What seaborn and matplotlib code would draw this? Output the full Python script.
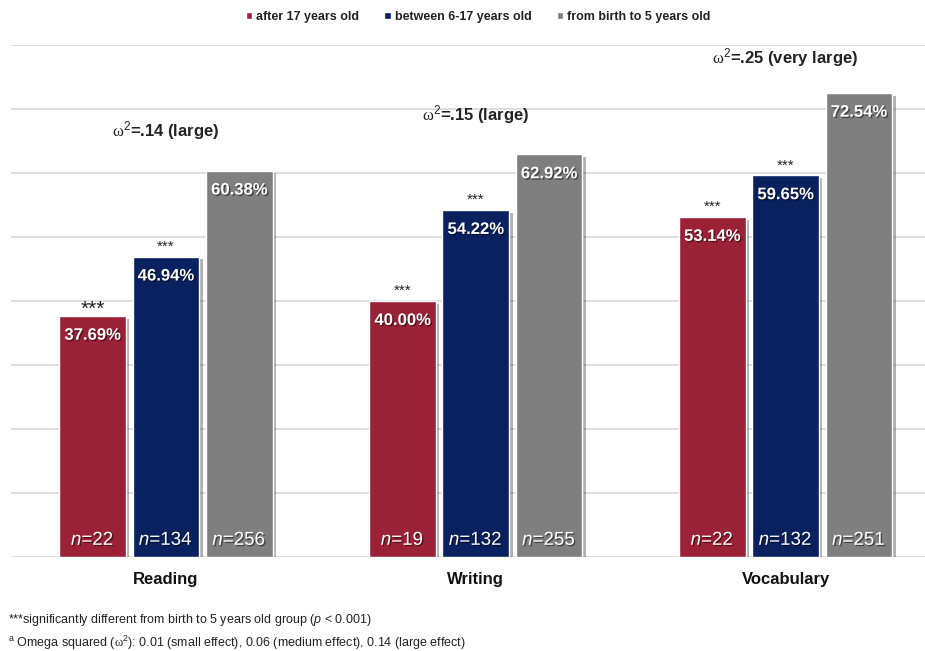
import matplotlib
matplotlib.use("Agg")
import matplotlib.pyplot as plt
import matplotlib.patheffects as pe
import seaborn as sns
import pandas as pd

skills = ["Reading", "Writing", "Vocabulary"]
groups = ["after 17 years old", "between 6-17 years old", "from birth to 5 years old"]
reading = [37.69, 46.94, 60.38]
writing = [40.00, 54.22, 62.92]
vocabulary = [53.14, 59.65, 72.54]
n_reading = [22, 134, 256]
n_writing = [19, 132, 255]
n_vocabulary = [22, 132, 251]
omega_labels = [r"$\mathrm{\omega}^{\mathsf{2}}$=.14 (large)",
                r"$\mathrm{\omega}^{\mathsf{2}}$=.15 (large)",
                r"$\mathrm{\omega}^{\mathsf{2}}$=.25 (very large)"]
omega_y = [66.7, 69.1, 78.1]
stars = [["***", "***", ""], ["***", "***", ""], ["***", "***", ""]]
colors = ["#9B2236", "#0A2160", "#7F7F7F"]

sns.set_theme(style="white")
plt.rcParams["font.family"] = ["Liberation Sans", "DejaVu Sans"]
plt.rcParams["mathtext.fontset"] = "custom"
plt.rcParams["mathtext.rm"] = "Liberation Serif"
plt.rcParams["mathtext.sf"] = "Liberation Sans"
plt.rcParams["mathtext.it"] = "Liberation Sans:italic"
plt.rcParams["mathtext.bf"] = "Liberation Sans:bold"

rows = []
for s, vals, ns in zip(skills, [reading, writing, vocabulary], [n_reading, n_writing, n_vocabulary]):
    for g, v, n in zip(groups, vals, ns):
        rows.append({"skill": s, "group": g, "value": v, "n": n})
df = pd.DataFrame(rows)

fig = plt.figure(figsize=(9.25, 6.51), dpi=100)
ax = fig.add_axes([11 / 925, 1 - 557 / 651, (925 - 11) / 925, (557 - 45) / 651])

sns.barplot(data=df, x="skill", y="value", hue="group", order=skills, hue_order=groups,
            palette=colors, width=0.71, gap=0.09, ax=ax, saturation=1, errorbar=None, zorder=3)

ax.set_ylim(0, 80)
ax.set_xlim(-0.5, 2.45)
ax.set_yticks(range(0, 81, 10))
ax.yaxis.grid(True, color="#D9D9D9", linewidth=1.2, zorder=0)
ax.set_axisbelow(True)
ax.tick_params(axis="y", left=False, labelleft=False)
ax.tick_params(axis="x", bottom=False, labelsize=12, pad=5)
for lab in ax.get_xticklabels():
    lab.set_fontweight("bold")
    lab.set_color("#111111")
ax.set_xlabel("")
ax.set_ylabel("")
for sp in ax.spines.values():
    sp.set_visible(False)

shadow = [pe.withSimplePatchShadow(offset=(2.5, -2), shadow_rgbFace="black", alpha=0.3)]
txt_shadow = [pe.withSimplePatchShadow(offset=(1, -1), shadow_rgbFace="black", alpha=0.45)]

all_vals = [reading, writing, vocabulary]
all_ns = [n_reading, n_writing, n_vocabulary]
for gi, cont in enumerate(ax.containers):
    for si, bar in enumerate(cont):
        bar.set_path_effects(shadow)
        xc = bar.get_x() + bar.get_width() / 2
        h = bar.get_height()
        ax.annotate(f"{all_vals[si][gi]:.2f}%", (xc, h), xytext=(0, -14), textcoords="offset points",
                    ha="center", va="center", color="white", fontsize=12, fontweight="bold",
                    path_effects=txt_shadow, zorder=5)
        ax.annotate(f"$n$={all_ns[si][gi]}", (xc, 0), xytext=(0, 12), textcoords="offset points",
                    ha="center", va="center", color="white", fontsize=13.5,
                    path_effects=txt_shadow, zorder=5)
        st = stars[si][gi]
        if st:
            big = (si == 0 and gi == 0)
            ax.annotate(st, (xc, h), xytext=(0, 5 if big else 7), textcoords="offset points",
                        ha="center", va="center", color="#222222", fontsize=15 if big else 11, zorder=5)

centers = [0, 1, 2]
for c, lab, yv in zip(centers, omega_labels, omega_y):
    ax.text(c, yv, lab, ha="center", va="center", fontsize=12, fontweight="bold", color="#222222")

sns.move_legend(ax, "center", bbox_to_anchor=(478 / 925, 1 - 17 / 651), bbox_transform=fig.transFigure,
                ncol=3, frameon=False, title=None, fontsize=9, handlelength=0.55, handleheight=0.55,
                handletextpad=0.3, columnspacing=2.0)
for t in ax.get_legend().get_texts():
    t.set_fontweight("bold")
    t.set_color("#222222")

fig.text(8 / 925, 1 - 620 / 651, "***significantly different from birth to 5 years old group ($\\it{p}$ < 0.001)",
         ha="left", va="center", fontsize=9, color="#222222")
fig.text(8 / 925, 1 - 643 / 651, "$^{\\mathsf{a}}$ Omega squared ($\\mathrm{\\omega}^{\\mathsf{2}}$): 0.01 (small effect), 0.06 (medium effect), 0.14 (large effect)",
         ha="left", va="center", fontsize=9, color="#222222")

fig.savefig("out.png", dpi=100)
